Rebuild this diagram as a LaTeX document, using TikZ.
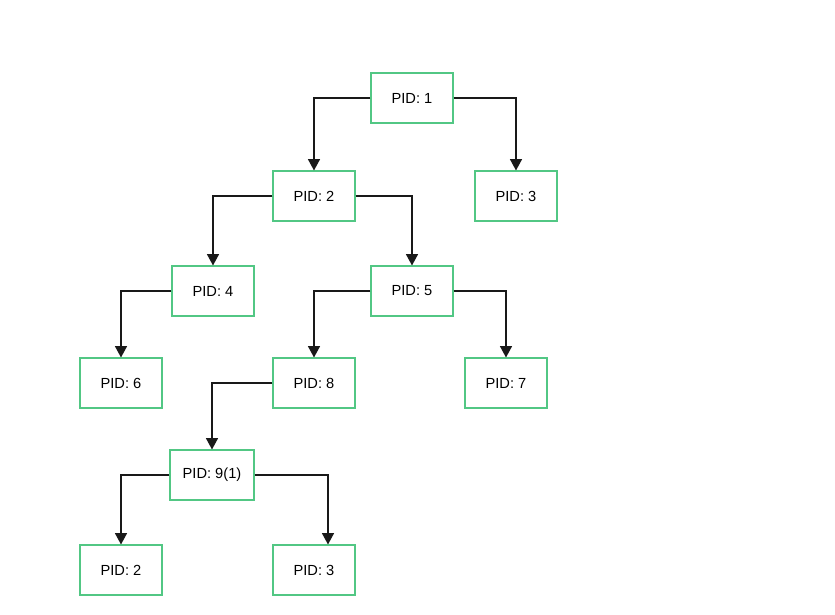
\documentclass[tikz,border=0pt]{standalone}
\usepackage{fontspec}
\setmainfont{Liberation Sans}
\usetikzlibrary{arrows.meta}
\definecolor{pidgreen}{RGB}{82,199,132}
\definecolor{linegray}{RGB}{25,25,25}
\begin{document}
\begin{tikzpicture}[x=0.03cm,y=-0.03cm,
pid/.style={draw=pidgreen,line width=0.9pt,fill=white,minimum width=2.46cm,minimum height=1.5cm,inner sep=0pt,font=\fontsize{12.5}{14}\selectfont},
arr/.style={draw=linegray,line width=1pt,-{Triangle[width=0.36cm,length=0.34cm]}}]
\useasboundingbox(0,0)rectangle(835,615);
\node[pid](p1)at(412,98){PID: 1};
\node[pid](p2)at(314,196){PID: 2};
\node[pid](p3)at(516,196){PID: 3};
\node[pid](p4)at(213,291){PID: 4};
\node[pid](p5)at(412,291){PID: 5};
\node[pid](p6)at(121,383){PID: 6};
\node[pid](p8)at(314,383){PID: 8};
\node[pid](p7)at(506,383){PID: 7};
\node[pid,minimum width=2.52cm](p9)at(212,475){PID: 9(1)};
\node[pid](c2)at(121,570){PID: 2};
\node[pid](c3)at(314,570){PID: 3};
\draw[arr](p1.west)-|(p2.north);
\draw[arr](p1.east)-|(p3.north);
\draw[arr](p2.west)-|(p4.north);
\draw[arr](p2.east)-|(p5.north);
\draw[arr](p4.west)-|(p6.north);
\draw[arr](p5.west)-|(p8.north);
\draw[arr](p5.east)-|(p7.north);
\draw[arr](p8.west)-|(p9.north);
\draw[arr](p9.west)-|(c2.north);
\draw[arr](p9.east)-|([xshift=0.42cm]c3.north);
\end{tikzpicture}
\end{document}
